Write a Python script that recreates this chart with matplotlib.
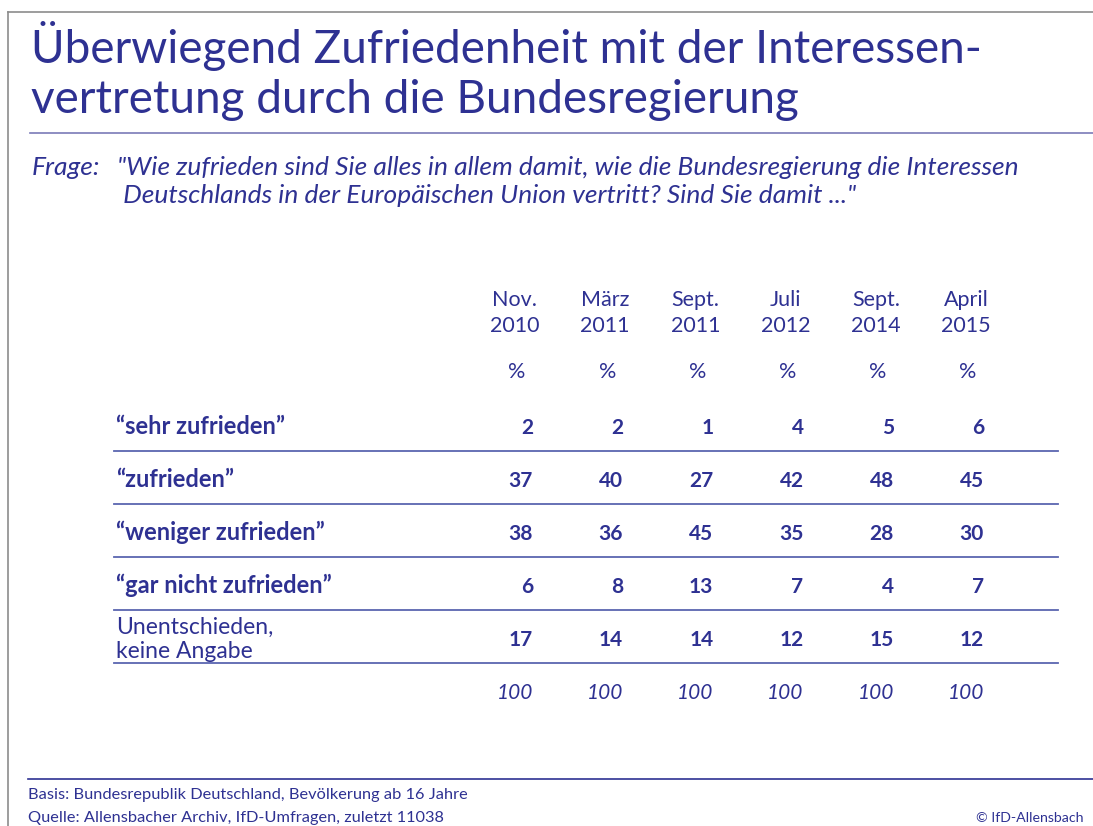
import matplotlib.pyplot as plt
from matplotlib.lines import Line2D

# Data
title_lines = ["Überwiegend Zufriedenheit mit der Interessen-",
               "vertretung durch die Bundesregierung"]
frage_lines = ['"Wie zufrieden sind Sie alles in allem damit, wie die Bundesregierung die Interessen',
               ' Deutschlands in der Europäischen Union vertritt? Sind Sie damit ..."']
col_months = ["Nov.", "März", "Sept.", "Juli", "Sept.", "April"]
col_years = ["2010", "2011", "2011", "2012", "2014", "2015"]
row_labels = ["\u201csehr zufrieden\u201d", "\u201czufrieden\u201d",
              "\u201cweniger zufrieden\u201d", "\u201cgar nicht zufrieden\u201d",
              "Unentschieden,\nkeine Angabe"]
row_bold = [True, True, True, True, False]
values = [
    [2, 2, 1, 4, 5, 6],
    [37, 40, 27, 42, 48, 45],
    [38, 36, 45, 35, 28, 30],
    [6, 8, 13, 7, 4, 7],
    [17, 14, 14, 12, 15, 12],
]
totals = [100, 100, 100, 100, 100, 100]
basis = "Basis: Bundesrepublik Deutschland, Bevölkerung ab 16 Jahre"
quelle = "Quelle: Allensbacher Archiv, IfD-Umfragen, zuletzt 11038"
copyright_txt = "\u00a9 IfD-Allensbach"

BLUE = "#2e3192"
LINE = "#5a66b0"
FONT = "Lato"

W, H = 1093, 826
fig = plt.figure(figsize=(W / 100, H / 100), dpi=100)
ax = fig.add_axes([0, 0, 1, 1])
ax.set_xlim(0, W)
ax.set_ylim(H, 0)
ax.axis("off")

# frame (top and left)
ax.add_line(Line2D([8, W], [12, 12], color="#8c8c8c", lw=1.2))
ax.add_line(Line2D([8, 8], [12, H], color="#8c8c8c", lw=1.2))

# title
for i, t in enumerate(title_lines):
    ax.text(31, 63 + 50 * i, t, fontsize=33, color=BLUE, family=FONT,
            va="baseline", ha="left")
ax.add_line(Line2D([30, W], [133, 133], color="#7a7ab8", lw=1.2))

# question
ax.text(32, 175, "Frage:", fontsize=19, color=BLUE, family=FONT,
        style="italic", va="baseline")
ax.text(117, 175, frage_lines[0], fontsize=19, color=BLUE, family=FONT,
        style="italic", va="baseline")
ax.text(117, 203, frage_lines[1], fontsize=19, color=BLUE, family=FONT,
        style="italic", va="baseline")

# columns
col_right = [533 + 90.2 * i for i in range(len(col_months))]
for x, m, y in zip(col_right, col_months, col_years):
    cx = x - 18
    ax.text(cx, 306, m, fontsize=15.5, color=BLUE, family=FONT, ha="center", va="baseline")
    ax.text(cx, 332, y, fontsize=15.5, color=BLUE, family=FONT, ha="center", va="baseline")
    ax.text(cx + 2, 378, "%", fontsize=15.5, color=BLUE, family=FONT, ha="center", va="baseline")

# rows
row_base = 434
row_step = 53
for r, (lab, bold, vals) in enumerate(zip(row_labels, row_bold, values)):
    yb = row_base + row_step * r
    if bold:
        ax.text(116, yb, lab, fontsize=17, color=BLUE, family=FONT,
                fontweight="bold", va="baseline")
    else:
        l1, l2 = lab.split("\n")
        ax.text(116, yb - 12, l1, fontsize=16.5, color=BLUE, family=FONT, va="baseline")
        ax.text(116, yb + 12, l2, fontsize=16.5, color=BLUE, family=FONT, va="baseline")
    for x, v in zip(col_right, vals):
        ax.text(x, yb, str(v), fontsize=15, color=BLUE, family=FONT,
                fontweight="bold", ha="right", va="baseline")
    ax.add_line(Line2D([114, 1058], [yb + 17, yb + 17], color=LINE, lw=1.3))

yb = row_base + row_step * len(values)
for x, v in zip(col_right, totals):
    ax.text(x, yb, str(v), fontsize=15, color=BLUE, family=FONT,
            style="italic", ha="right", va="baseline")

# footer
ax.add_line(Line2D([28, W], [779, 779], color=BLUE, lw=1.2))
ax.text(28, 799, basis, fontsize=11.8, color=BLUE, family=FONT, va="baseline")
ax.text(28, 822, quelle, fontsize=11.8, color=BLUE, family=FONT, va="baseline")
ax.text(1083, 822, copyright_txt, fontsize=10.2, color=BLUE, family=FONT,
        ha="right", va="baseline")

fig.savefig("out.png", dpi=100)
